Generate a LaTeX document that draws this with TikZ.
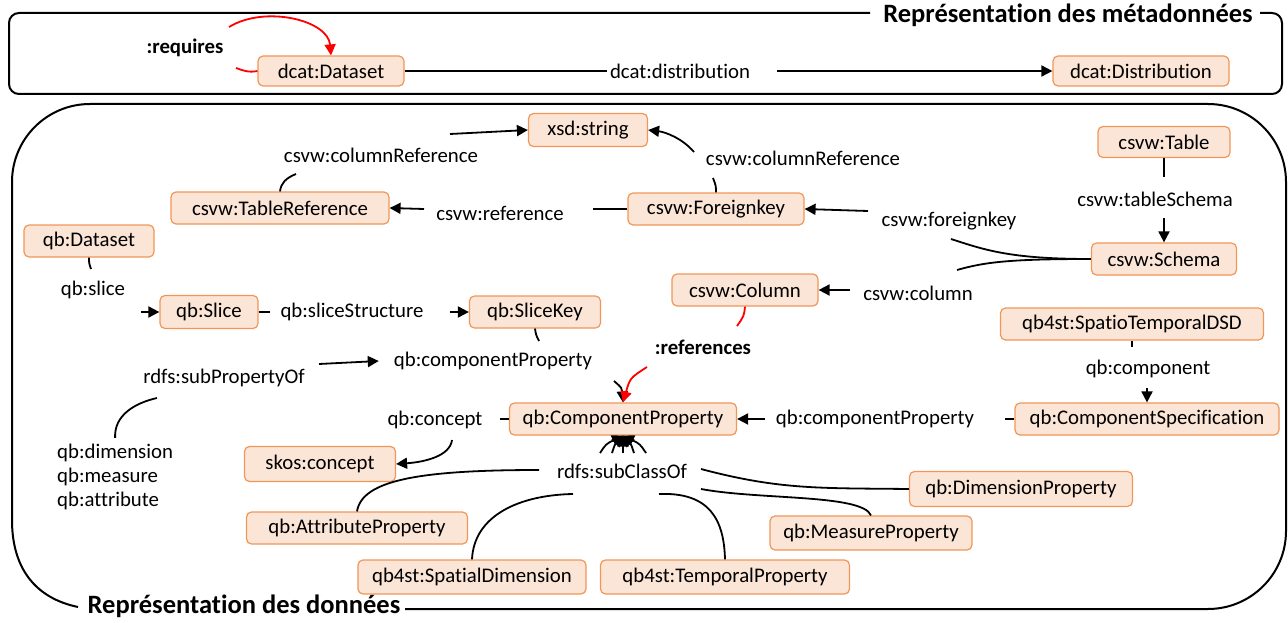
\documentclass[tikz,border=0pt]{standalone}
\usepackage{fontspec}
\setmainfont{Carlito}[Ligatures={NoCommon}]
\usetikzlibrary{arrows.meta}
\definecolor{boxfill}{RGB}{251,229,214}
\definecolor{boxdraw}{RGB}{241,150,88}
\begin{document}
\begin{tikzpicture}[x=1pt,y=-1pt,
  box/.style={draw=boxdraw, fill=boxfill, rounded corners=5pt, line width=1.2pt, minimum height=32pt, inner sep=0pt, font=\fontsize{20.8}{24}\selectfont},
  lbl/.style={inner sep=0pt, font=\fontsize{20.8}{24}\selectfont},
  blbl/.style={inner sep=0pt, font=\fontsize{20.8}{24}\selectfont\bfseries},
  titlelbl/.style={inner sep=0pt, font=\fontsize{26.5}{30}\selectfont\bfseries},
  panel/.style={line width=2pt},
  conn/.style={line width=1.8pt},
  arr/.style={conn, -{Triangle[length=11pt,width=11pt]}},
  rconn/.style={conn, draw=red},
  rarr/.style={conn, draw=red, -{Triangle[length=11pt,width=11pt]}}]
\useasboundingbox (0,0) rectangle (1288,623);

% panels
\draw[panel, rounded corners=10pt] (870,13) -- (9,13) -- (9,94) -- (1282,94) -- (1282,13) -- (1260,13);
\draw[panel, rounded corners=78pt] (405,609) -- (1286,609) -- (1286,104) -- (12,104) -- (12,520);
\draw[panel] (12,520) .. controls (12,568) and (35,598) .. (78,607);
\node[titlelbl] (t1) at (1068,15) {Représentation des métadonnées};
\node[titlelbl] (t2) at (244,606) {Représentation des données};

% boxes
\node[box, minimum width=146pt, minimum height=30pt] (dsA) at (331,71) {dcat:Dataset};
\node[box, minimum width=176pt, minimum height=30pt] (dist) at (1141,71) {dcat:Distribution};
\node[box, minimum width=119pt, minimum height=33pt] (xsd) at (588,130) {xsd:string};
\node[box, minimum width=218pt] (tref) at (280,208) {csvw:TableReference};
\node[box, minimum width=176pt] (fk) at (716,209) {csvw:Foreignkey};
\node[box, minimum width=132pt, minimum height=31pt] (table) at (1164,142) {csvw:Table};
\node[box, minimum width=145pt] (schema) at (1164,259) {csvw:Schema};
\node[box, minimum width=130pt] (qbds) at (89,241) {qb:Dataset};
\node[box, minimum width=98pt, minimum height=33pt] (slice) at (209,312) {qb:Slice};
\node[box, minimum width=131pt] (slicekey) at (535,312) {qb:SliceKey};
\node[box, minimum width=146pt] (column) at (745,290) {csvw:Column};
\node[box, minimum width=263pt] (dsd) at (1132,324) {qb4st:SpatioTemporalDSD};
\node[box, minimum width=227pt] (cp) at (623,419) {qb:ComponentProperty};
\node[box, minimum width=264pt] (cspec) at (1147,419) {qb:ComponentSpecification};
\node[box, minimum width=151pt, minimum height=35pt] (skos) at (320,464) {skos:concept};
\node[box, minimum width=223pt, minimum height=35pt] (dimp) at (1021,489) {qb:DimensionProperty};
\node[box, minimum width=221pt] (attr) at (357,528) {qb:AttributeProperty};
\node[box, minimum width=202pt, minimum height=34pt] (meas) at (871,533) {qb:MeasureProperty};
\node[box, minimum width=228pt, minimum height=34pt] (spat) at (472,577) {qb4st:SpatialDimension};
\node[box, minimum width=249pt, minimum height=34pt] (temp) at (725,577) {qb4st:TemporalProperty};

% labels
\node[blbl] (lreq) at (185,48) {:requires};
\node[lbl] (ldist) at (680,71) {dcat:distribution};
\node[lbl] (lcr1) at (381,155) {csvw:columnReference};
\node[lbl] (lcr2) at (803,158) {csvw:columnReference};
\node[lbl] (lref) at (500,213) {csvw:reference};
\node[lbl] (lfk) at (949,221) {csvw:foreignkey};
\node[lbl] (lts) at (1155,199) {csvw:tableSchema};
\node[lbl] (lcol) at (918,293) {csvw:column};
\node[lbl] (lsl) at (93,290) {qb:slice};
\node[lbl] (lss) at (352,312) {qb:sliceStructure};
\node[lbl] (lcp1) at (493,361) {qb:componentProperty};
\node[blbl] (lrefs) at (703,347) {:references};
\node[lbl] (lsp) at (224,378) {rdfs:subPropertyOf};
\node[lbl, align=left, anchor=west] (dims) at (57,477) {qb:dimension\\qb:measure\\qb:attribute};
\node[lbl] (lcc) at (435,420) {qb:concept};
\node[lbl] (lcomp) at (1148,369) {qb:component};
\node[lbl] (lcp2) at (875,419) {qb:componentProperty};
\node[lbl] (lsc) at (622,471) {rdfs:subClassOf};

% free ends
\coordinate (rq1) at (236,68);
\coordinate (rq2) at (229,27);
\coordinate (di1) at (607,71);
\coordinate (di2) at (777,71);
\coordinate (cra) at (296,174);
\coordinate (crb) at (450,134);
\coordinate (crc) at (713,178);
\coordinate (crd) at (694,152);
\coordinate (rf1) at (593,209);
\coordinate (rf2) at (424,209);
\coordinate (fk1) at (951,239);
\coordinate (fk2) at (868,211);
\coordinate (cl1) at (957,270);
\coordinate (cl2) at (850,290);
\coordinate (ts1) at (1164,177);
\coordinate (ts2) at (1164,218);
\coordinate (sl1) at (91,269);
\coordinate (sl2) at (141,312);
\coordinate (ss1) at (270,312);
\coordinate (ss2) at (450,312);
\coordinate (cu1) at (539,341);
\coordinate (cu2) at (614,381);
\coordinate (rr1) at (737,326);
\coordinate (rr2) at (647,367);
\coordinate (sp1) at (157,398);
\coordinate (sp2) at (319,364);
\coordinate (cc1) at (500,419);
\coordinate (cc2) at (452,440);
\coordinate (cm1) at (1132,347);
\coordinate (cm2) at (1147,388);
\coordinate (cl3) at (1005,419);
\coordinate (cl4) at (765,419);
\coordinate (sc1) at (539,470);
\coordinate (sc2) at (573,494);
\coordinate (sc3) at (701,469);
\coordinate (sc4) at (701,489);
\coordinate (sc5) at (659,494);

% connectors
\draw[conn] (dsA.east) -- (di1);
\draw[arr] (di2) -- (dist.west);
\draw[conn] (tref.north) .. controls (281,183) and (286,178) .. (cra);
\draw[arr] (crb) -- (xsd.west);
\draw[conn] (fk.north) .. controls (716,186) .. (crc);
\draw[arr] (crd) .. controls (682,138) and (665,132) .. (xsd.east);
\draw[conn] (fk.west) -- (rf1);
\draw[arr] (rf2) -- (tref.east);
\draw[conn] (schema.west) .. controls (1010,259) and (985,250) .. (fk1);
\draw[arr] (fk2) -- (fk.east);
\draw[conn] (schema.west) .. controls (1010,259) and (985,262) .. (cl1);
\draw[arr] (cl2) -- (column.east);
\draw[conn] (table.south) -- (ts1);
\draw[arr] (ts2) -- (schema.north);
\draw[conn] (qbds.south) .. controls (89,263) .. (sl1);
\draw[arr] (sl2) -- (slice.west);
\draw[conn] (slice.east) -- (ss1);
\draw[arr] (ss2) -- (slicekey.west);
\draw[conn] (slicekey.south) .. controls (536,335) .. (cu1);
\draw[arr] (cu2) .. controls (622,388) .. (cp.north);
\draw[conn] ([yshift=6pt]dims.north) .. controls (114,415) and (135,403) .. (sp1);
\draw[arr] (sp2) -- ([xshift=-15pt]lcp1.west);
\draw[conn] (cp.west) -- (cc1);
\draw[arr] (cc2) .. controls (450,456) and (425,462) .. (skos.east);
\draw[conn] (dsd.south) -- (cm1);
\draw[arr] (cm2) -- (cspec.north);
\draw[conn] (cspec.west) -- (cl3);
\draw[arr] (cl4) -- (cp.east);
\foreach \xx/\cx in {600/606, 612/615, 623/623, 634/631, 646/640}
  \draw[arr] (\xx,453) .. controls (\cx,444) .. (cp.south);
\draw[conn] (sc1) .. controls (420,470) and (362,480) .. (attr.north);
\draw[conn] (sc2) .. controls (520,495) and (474,515) .. (spat.north);
\draw[conn] (sc3) .. controls (780,490) and (820,488) .. (dimp.west);
\draw[conn] (sc4) .. controls (760,500) and (862,494) .. (meas.north);
\draw[conn] (sc5) .. controls (710,492) and (724,520) .. (temp.north);
% red
\draw[rconn] (dsA.west) .. controls (248,73) and (242,70) .. (rq1);
\draw[rarr] (rq2) .. controls (265,5) and (328,20) .. (dsA.north);
\draw[rconn] (column.south) .. controls (744,316) .. (rr1);
\draw[rarr] (rr2) .. controls (630,378) .. (cp.north);
\end{tikzpicture}
\end{document}
